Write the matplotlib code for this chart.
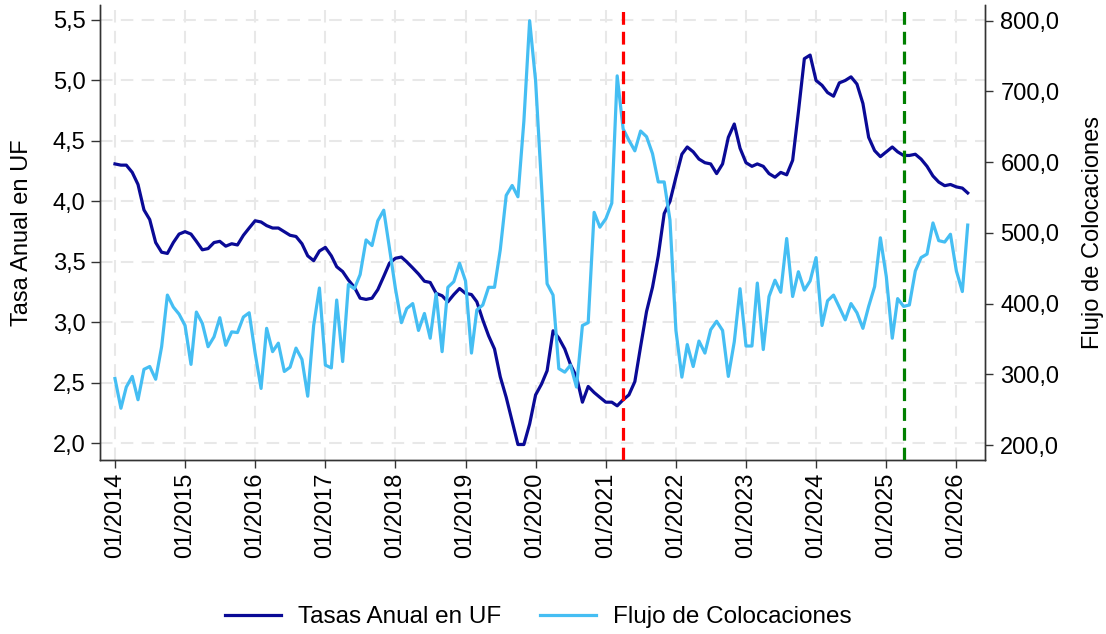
import matplotlib
matplotlib.use("Agg")
import matplotlib.pyplot as plt
import matplotlib.dates as mdates
from matplotlib.ticker import FuncFormatter
import pandas as pd
import datetime as dt

plt.rcParams['font.family'] = ['Liberation Sans', 'DejaVu Sans']

# ---------------- data ----------------
start_month = "2014-01-01"

tasa_uf = [
    4.31, 4.30, 4.30, 4.24, 4.14, 3.93, 3.85, 3.66, 3.58, 3.57, 3.66, 3.73,  # 2014
    3.75, 3.73, 3.67, 3.60, 3.61, 3.66, 3.67, 3.63, 3.65, 3.64, 3.72, 3.78,  # 2015
    3.84, 3.83, 3.80, 3.78, 3.78, 3.75, 3.72, 3.71, 3.65, 3.55, 3.51, 3.59,  # 2016
    3.62, 3.55, 3.46, 3.42, 3.35, 3.29, 3.20, 3.19, 3.20, 3.27, 3.38, 3.49,  # 2017
    3.53, 3.54, 3.50, 3.45, 3.40, 3.34, 3.33, 3.24, 3.22, 3.17, 3.23, 3.28,  # 2018
    3.24, 3.23, 3.17, 3.02, 2.89, 2.78, 2.55, 2.38, 2.18, 1.99, 1.99, 2.16,  # 2019
    2.40, 2.49, 2.60, 2.93, 2.87, 2.78, 2.65, 2.55, 2.34, 2.47, 2.42, 2.38,  # 2020
    2.34, 2.34, 2.31, 2.36, 2.40, 2.51, 2.80, 3.09, 3.29, 3.55, 3.90, 4.00,  # 2021
    4.20, 4.39, 4.45, 4.41, 4.35, 4.32, 4.31, 4.23, 4.31, 4.53, 4.64, 4.44,  # 2022
    4.32, 4.29, 4.31, 4.29, 4.23, 4.20, 4.24, 4.22, 4.34, 4.74, 5.18, 5.21,  # 2023
    5.00, 4.96, 4.90, 4.87, 4.98, 5.00, 5.03, 4.97, 4.81, 4.53, 4.42, 4.37,  # 2024
    4.41, 4.45, 4.41, 4.38, 4.38, 4.39, 4.35, 4.29, 4.21, 4.16, 4.13, 4.14,  # 2025
    4.12, 4.11, 4.07,                                                        # 2026
]

flujo_colocaciones = [
    294, 252, 282, 297, 264, 307, 311, 293, 339, 412, 395, 385,  # 2014
    369, 314, 388, 372, 339, 353, 380, 341, 360, 359, 381, 387,  # 2015
    330, 280, 365, 332, 344, 304, 310, 337, 321, 269, 369, 422,  # 2016
    313, 309, 405, 318, 427, 421, 441, 490, 482, 517, 532, 478,  # 2017
    421, 373, 393, 400, 362, 386, 351, 414, 332, 423, 431, 457,  # 2018
    432, 330, 391, 398, 423, 423, 476, 553, 567, 551, 658, 800,  # 2019
    715, 567, 428, 412, 308, 303, 313, 282, 369, 373, 529, 508,  # 2020
    520, 542, 722, 647, 631, 616, 644, 636, 612, 572, 572, 518,  # 2021
    362, 296, 342, 311, 347, 330, 363, 375, 362, 297, 346, 421,  # 2022
    340, 340, 429, 335, 410, 433, 416, 492, 410, 445, 419, 432,  # 2023
    465, 369, 404, 412, 395, 377, 400, 387, 365, 396, 424, 493,  # 2024
    438, 351, 407, 396, 398, 446, 465, 470, 514, 489, 487, 498,  # 2025
    446, 417, 511,                                               # 2026
]

red_line_date = "2021-04-01"
green_line_date = "2025-04-01"

left_ticks = [2.0, 2.5, 3.0, 3.5, 4.0, 4.5, 5.0, 5.5]
right_ticks = [200, 300, 400, 500, 600, 700, 800]
year_ticks = list(range(2014, 2027))

label_left = "Tasa Anual en UF"
label_right = "Flujo de Colocaciones"
legend_tasa = "Tasas Anual en UF"
legend_flujo = "Flujo de Colocaciones"

# ---------------- plot ----------------
dates = pd.date_range(start_month, periods=len(tasa_uf), freq="MS")

W, H = 1106, 634
fig = plt.figure(figsize=(W / 100, H / 100), dpi=100)
L, R, T, B = 100, 985, 5, 460
ax = fig.add_axes([L / W, 1 - B / H, (R - L) / W, (B - T) / H])
ax2 = ax.twinx()

col_dark = "#0a0a96"
col_light = "#45bef3"
fs = 17

l1, = ax.plot(dates, tasa_uf, color=col_dark, lw=2.3, zorder=5, solid_joinstyle="round")
l2, = ax2.plot(dates, flujo_colocaciones, color=col_light, lw=2.3, zorder=4, solid_joinstyle="round")

ax2.axvline(pd.Timestamp(red_line_date), color="#ff0000", lw=2.3, ls=(0, (4, 2.2)), zorder=6)
ax2.axvline(pd.Timestamp(green_line_date), color="#008000", lw=2.3, ls=(0, (4, 2.2)), zorder=6)

ax.set_xlim(dt.date(2013, 10, 15), dt.date(2026, 5, 30))
ax.set_ylim(1.862, 5.624)
ax2.set_ylim(178.8, 822.2)

xt = [dt.date(y, 1, 1) for y in year_ticks]
ax.set_xticks(xt)
ax.xaxis.set_major_formatter(mdates.DateFormatter("%m/%Y"))
ax.set_yticks(left_ticks)
ax.yaxis.set_major_formatter(FuncFormatter(lambda v, p: f"{v:.1f}".replace(".", ",")))
ax2.set_yticks(right_ticks)
ax2.yaxis.set_major_formatter(FuncFormatter(lambda v, p: f"{v:.1f}".replace(".", ",")))

for lab in ax.get_xticklabels():
    lab.set_rotation(90)

ax.tick_params(axis="x", labelsize=fs, length=6, width=1, pad=3, color="#333333")
ax.tick_params(axis="y", labelsize=fs, length=6.5, width=1, pad=4, color="#333333")
ax2.tick_params(axis="y", labelsize=fs, length=6, width=1, pad=5, color="#333333")

ax.grid(True, color="#e8e8e8", lw=1.5, ls=(0, (6, 4)))
ax.set_axisbelow(True)

for a in (ax, ax2):
    a.spines["top"].set_visible(False)
    for s in ("left", "right", "bottom"):
        a.spines[s].set_color("#333333")
        a.spines[s].set_linewidth(1.0)

ax.set_ylabel(label_left, fontsize=fs, labelpad=14)
ax2.set_ylabel(label_right, fontsize=fs, labelpad=16)

fig.legend([l1, l2], [legend_tasa, legend_flujo], loc="center",
           bbox_to_anchor=(0.5 - 15 / W, 1 - 617 / H), ncol=2, frameon=False,
           fontsize=17.5, handlelength=2.3, handletextpad=0.7, columnspacing=1.6)

fig.savefig("out.png", dpi=100)
